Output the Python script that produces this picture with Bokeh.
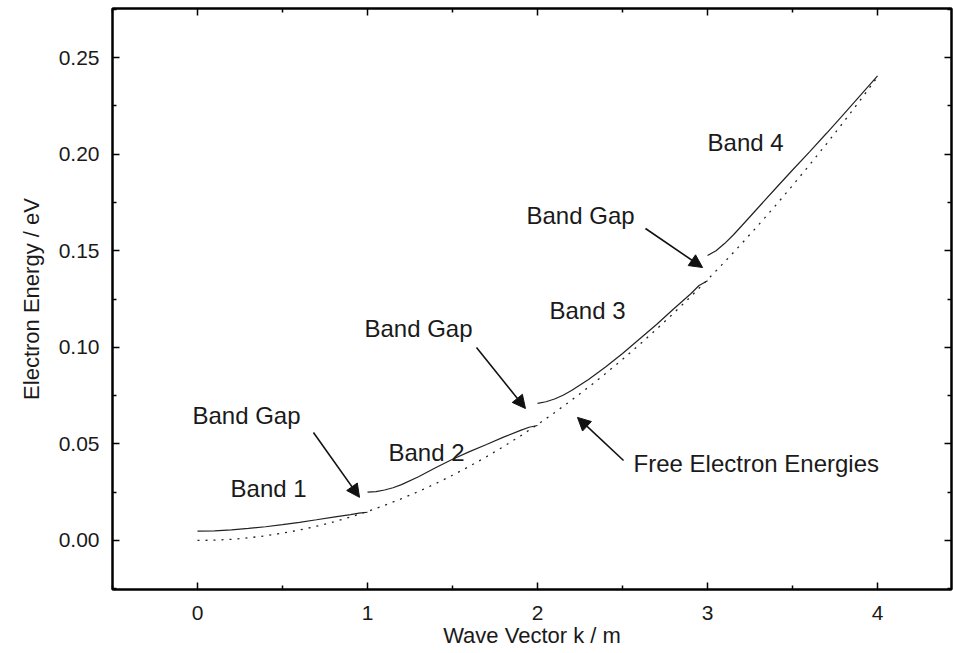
from bokeh.plotting import figure
from bokeh.models import Range1d, LinearAxis, FixedTicker, Arrow, NormalHead, Label, CustomJSTickFormatter
from bokeh.embed import file_html
from bokeh.resources import INLINE

# Free electron energies (dotted)
k_free = [0.0, 0.1, 0.2, 0.3, 0.4, 0.5, 0.6, 0.7, 0.8, 0.9, 1.0,
          1.1, 1.2, 1.3, 1.4, 1.5, 1.6, 1.7, 1.8, 1.9, 2.0,
          2.1, 2.2, 2.3, 2.4, 2.5, 2.6, 2.7, 2.8, 2.9, 3.0,
          3.1, 3.2, 3.3, 3.4, 3.5, 3.6, 3.7, 3.8, 3.9, 4.0]
e_free = [0.0, 0.00015, 0.0006, 0.00135, 0.0024, 0.00375, 0.0054, 0.00735, 0.0096, 0.01215, 0.015,
          0.01815, 0.0216, 0.02535, 0.0294, 0.03375, 0.0384, 0.04335, 0.0486, 0.05415, 0.06,
          0.06615, 0.0726, 0.07935, 0.0864, 0.09375, 0.1014, 0.10935, 0.1176, 0.12615, 0.135,
          0.14415, 0.1536, 0.16335, 0.1734, 0.18375, 0.1944, 0.20535, 0.2166, 0.22815, 0.24]

# Bands (solid)
k_band1 = [0.0, 0.1, 0.2, 0.3, 0.4, 0.5, 0.6, 0.7, 0.8, 0.9, 0.95, 1.0]
e_band1 = [0.0048, 0.0050, 0.0055, 0.0062, 0.0071, 0.0082, 0.0094, 0.0107, 0.0121, 0.0134, 0.0141, 0.0146]

k_band2 = [1.0, 1.05, 1.1, 1.15, 1.2, 1.3, 1.4, 1.5, 1.6, 1.7, 1.8, 1.9, 1.95, 2.0]
e_band2 = [0.0250, 0.0253, 0.0261, 0.0273, 0.0289, 0.0330, 0.0376, 0.0420, 0.0460, 0.0497, 0.0535, 0.0570, 0.0586, 0.0595]

k_band3 = [2.0, 2.05, 2.1, 2.15, 2.2, 2.3, 2.4, 2.5, 2.6, 2.7, 2.8, 2.9, 2.95, 3.0]
e_band3 = [0.0710, 0.0718, 0.0732, 0.0752, 0.0776, 0.0833, 0.0898, 0.0968, 0.1043, 0.1118, 0.1198, 0.1276, 0.1320, 0.1345]

k_band4 = [3.0, 3.05, 3.1, 3.15, 3.2, 3.3, 3.4, 3.5, 3.6, 3.7, 3.8, 3.9, 4.0]
e_band4 = [0.1475, 0.1500, 0.1537, 0.1580, 0.1628, 0.1725, 0.1822, 0.1918, 0.2012, 0.2108, 0.2206, 0.2305, 0.2405]

x_major = [0, 1, 2, 3, 4]
x_minor = [-0.5, 0.5, 1.5, 2.5, 3.5, 4.5]
y_major = [0.0, 0.05, 0.10, 0.15, 0.20, 0.25]
y_minor = [-0.025, 0.025, 0.075, 0.125, 0.175, 0.225, 0.275]
y_labels = {0.0: "0.00", 0.05: "0.05", 0.1: "0.10", 0.15: "0.15", 0.2: "0.20", 0.25: "0.25"}

FONT = "Liberation Sans"
TXT = "#1a1a1a"

p = figure(width=953, height=653, output_backend="svg", toolbar_location=None,
           x_range=Range1d(-0.5, 4.435), y_range=Range1d(-0.0254, 0.2754),
           min_border_left=112, min_border_right=2, min_border_top=8, min_border_bottom=64,
           x_axis_label="Wave Vector k / m", y_axis_label="Electron Energy / eV")
p.grid.visible = False
p.background_fill_color = "white"
p.border_fill_color = "white"
p.outline_line_color = "black"
p.outline_line_width = 2

xt = FixedTicker(ticks=x_major, minor_ticks=x_minor)
yt = FixedTicker(ticks=y_major, minor_ticks=y_minor)

for ax in [p.xaxis[0], p.yaxis[0]]:
    ax.major_tick_in = 7
    ax.major_tick_out = 0
    ax.minor_tick_in = 4
    ax.minor_tick_out = 0
    ax.major_tick_line_width = 1.5
    ax.minor_tick_line_width = 1.5
    ax.axis_line_width = 2
    ax.major_label_text_font = FONT
    ax.major_label_text_font_size = "21px"
    ax.major_label_text_color = TXT
    ax.axis_label_text_font = FONT
    ax.axis_label_text_font_size = "22px"
    ax.axis_label_text_font_style = "normal"
    ax.axis_label_text_color = TXT
p.xaxis[0].ticker = xt
p.yaxis[0].ticker = yt
p.yaxis[0].major_label_overrides = y_labels
p.xaxis[0].major_label_standoff = 16
p.xaxis[0].axis_label_standoff = 0
p.yaxis[0].major_label_standoff = 13
p.yaxis[0].axis_label_standoff = 12

blank = CustomJSTickFormatter(code="return ''")
top = LinearAxis(ticker=xt, formatter=blank, major_label_text_font_size="2px", major_tick_in=7, major_tick_out=0,
                 minor_tick_in=4, minor_tick_out=0, major_label_standoff=0, axis_line_width=2,
                 major_tick_line_width=1.5, minor_tick_line_width=1.5)
right = LinearAxis(ticker=yt, formatter=blank, major_label_text_font_size="2px", major_tick_in=7, major_tick_out=0,
                   minor_tick_in=4, minor_tick_out=0, major_label_standoff=0, axis_line_width=2,
                   major_tick_line_width=1.5, minor_tick_line_width=1.5)
p.add_layout(top, "above")
p.add_layout(right, "right")

p.line(k_free, e_free, line_color="#222222", line_width=1.3, line_dash="2 6")
for kk, ee in [(k_band1, e_band1), (k_band2, e_band2), (k_band3, e_band3), (k_band4, e_band4)]:
    p.line(kk, ee, line_color="#222222", line_width=1.2)

labels = [
    ("Band 1", 0.418, 0.0269, "center"),
    ("Band 2", 1.347, 0.0455, "center"),
    ("Band 3", 2.294, 0.1190, "center"),
    ("Band 4", 3.224, 0.2060, "center"),
    ("Band Gap", 0.288, 0.0647, "center"),
    ("Band Gap", 1.300, 0.1097, "center"),
    ("Band Gap", 2.253, 0.1680, "center"),
    ("Free Electron Energies", 2.565, 0.0399, "left"),
]
for t, x, y, al in labels:
    p.add_layout(Label(x=x, y=y, text=t, text_align=al, text_baseline="middle",
                       text_font=FONT, text_font_size="24px", text_color=TXT))

arrows = [
    (0.682, 0.0559, 0.953, 0.0223),
    (1.641, 0.0999, 1.929, 0.0683),
    (2.635, 0.1615, 2.971, 0.1413),
    (2.506, 0.0414, 2.235, 0.0637),
]
for x0, y0, x1, y1 in arrows:
    p.add_layout(Arrow(x_start=x0, y_start=y0, x_end=x1, y_end=y1, line_width=1.6, line_color="#111111",
                       end=NormalHead(size=13, fill_color="#111111", line_color="#111111")))

open("out.html", "w").write(file_html(p, INLINE))
